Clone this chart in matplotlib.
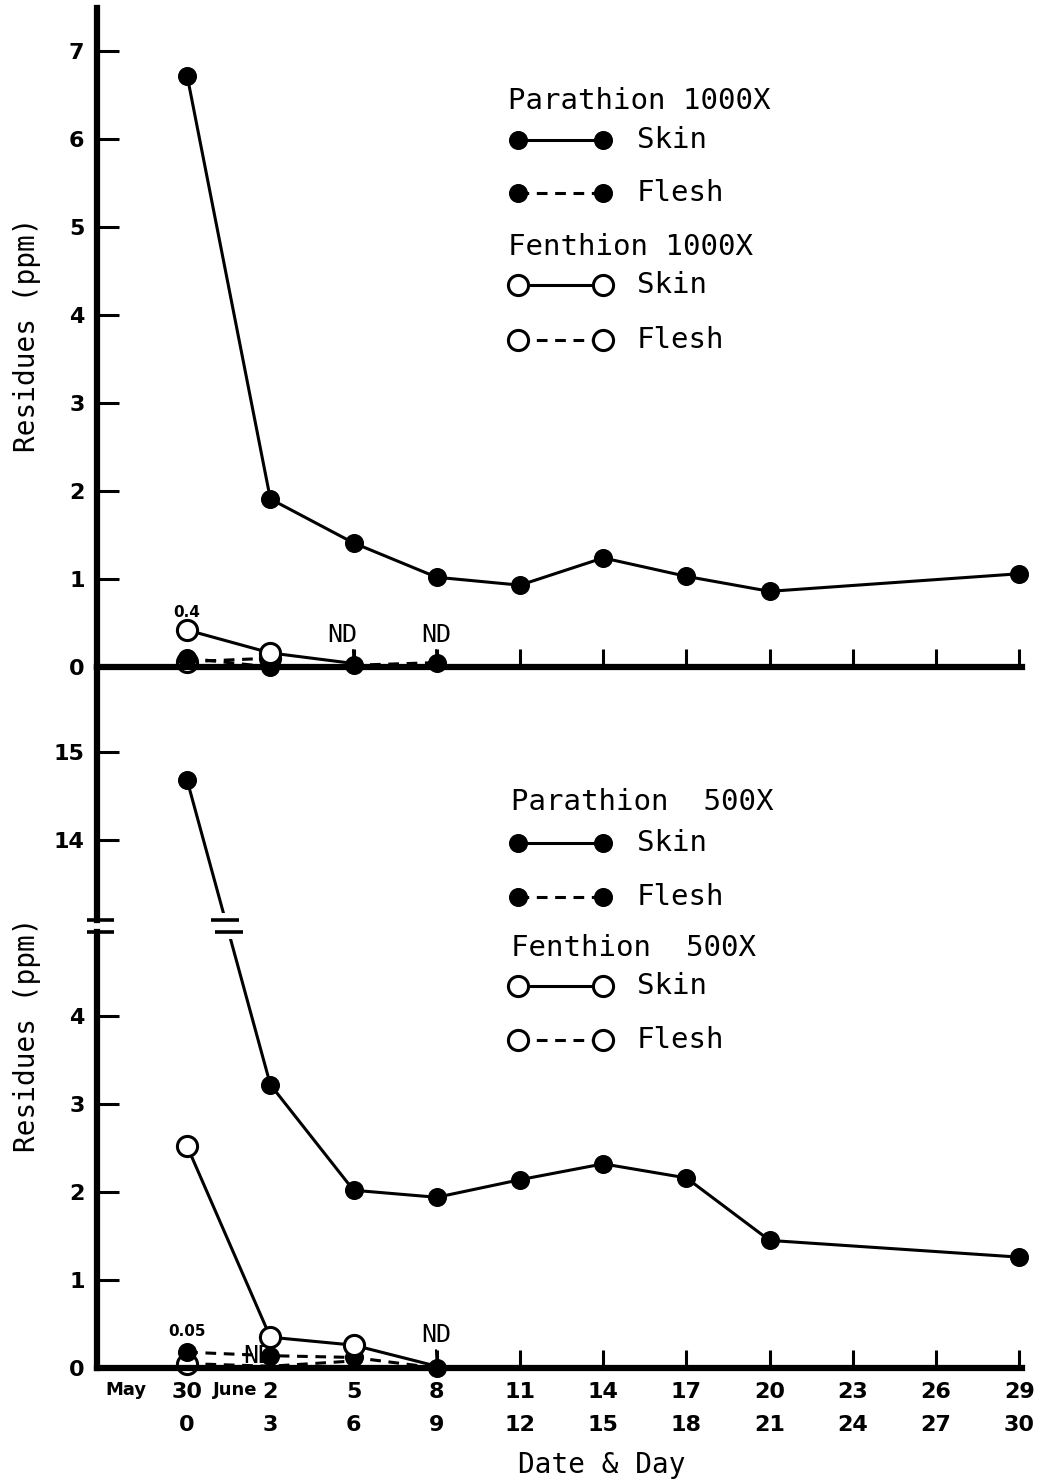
import matplotlib.pyplot as plt
from matplotlib.patches import ConnectionPatch, Rectangle
from matplotlib.lines import Line2D

W, H = 1046, 1482
MONO = 'DejaVu Sans Mono'

# sampling days (days after spraying)
days = [0, 3, 6, 9, 12, 15, 18, 21, 30]
flesh_days = [0, 3, 6, 9]
fen_days_1000 = [0, 3, 6]
fen_flesh_days_1000 = [0, 3]
fen_days_500 = [0, 3, 6, 9]
fen_flesh_days_500 = [0, 3, 6]

# Parathion / Fenthion 1000X (ppm)
par_skin_1000 = [6.72, 1.91, 1.41, 1.02, 0.93, 1.24, 1.03, 0.86, 1.06]
par_flesh_1000 = [0.10, 0.0, 0.02, 0.05]
fen_skin_1000 = [0.42, 0.16, 0.04]
fen_flesh_1000 = [0.06, 0.10]

# Parathion / Fenthion 500X (ppm)
par_skin_500 = [14.68, 3.22, 2.02, 1.94, 2.14, 2.32, 2.16, 1.45, 1.26]
par_flesh_500 = [0.18, 0.14, 0.12, 0.0]
fen_skin_500 = [2.52, 0.35, 0.26, 0.02]
fen_flesh_500 = [0.05, 0.02, 0.08]

tick_days = list(range(0, 31, 3))
date_labels = ['30', '2', '5', '8', '11', '14', '17', '20', '23', '26', '29']


def box(x0, y0, x1, y1):
    # pixel box (origin top-left) -> figure fraction rect
    return [x0 / W, 1 - y1 / H, (x1 - x0) / W, (y1 - y0) / H]


def style(filled, dashed):
    return dict(color='k', lw=2.2, ls=(0, (3.5, 2.5)) if dashed else '-',
                marker='o', ms=11.5 if filled else 14.5,
                mfc='k' if filled else 'white', mec='k', mew=2.2)


def series(ax, x, y, filled, dashed, z=3, every=None):
    ax.plot(x, y, clip_on=False, zorder=z, markevery=every, **style(filled, dashed))


fig = plt.figure(figsize=(W / 100, H / 100), dpi=100)

ax1 = fig.add_axes(box(97, 8, 1022, 667))
ax2 = fig.add_axes(box(97, 667, 1022, 920))
ax3 = fig.add_axes(box(97, 932, 1022, 1368))

ax1.set_ylim(0, 7.49)
ax2.set_ylim(13.09, 15.97)
ax3.set_ylim(0, 4.955)

for ax in (ax1, ax2, ax3):
    ax.set_xlim(-3.25, 30.1)
    ax.patch.set_visible(False)
    ax.spines['top'].set_visible(False)
    ax.spines['right'].set_visible(False)
    ax.spines['left'].set_linewidth(4.5)
    ax.spines['bottom'].set_linewidth(4.5)
    ax.tick_params(axis='both', direction='in', width=2.2, colors='k')
    ax.tick_params(axis='y', length=16, labelsize=16, pad=9)
    ax.tick_params(axis='x', length=13, labelsize=16, pad=10)

ax1.set_yticks(range(8))
ax2.set_yticks([14, 15])
ax3.set_yticks(range(5))
ax1.set_xticks(tick_days)
ax1.set_xticklabels([])
ax2.spines['bottom'].set_visible(False)
ax2.set_xticks([])
ax3.set_xticks(tick_days)
ax3.set_xticklabels([f'{d}\n{t}' for d, t in zip(date_labels, tick_days)],
                    linespacing=1.85)

for ax in (ax1, ax2, ax3):
    for lab in ax.get_yticklabels() + ax.get_xticklabels():
        lab.set_fontweight('bold')

# --- top panel: 1000X
series(ax1, fen_flesh_days_1000, fen_flesh_1000, False, True, 2)
series(ax1, flesh_days, par_flesh_1000, True, True, 3)
series(ax1, days, par_skin_1000, True, False, 3)
series(ax1, fen_days_1000, fen_skin_1000, False, False, 4, every=[0, 1])

ax1.text(0, 0.62, '0.4', ha='center', va='center', fontsize=11, fontweight='bold')
ax1.annotate('ND', xy=(6, 0.02), xytext=(5.6, 0.36), ha='center', va='center',
             family=MONO, fontsize=18,
             arrowprops=dict(arrowstyle='-', lw=1.6, shrinkA=0, shrinkB=0, relpos=(0.85, 0)))
ax1.annotate('ND', xy=(9, 0.05), xytext=(8.97, 0.36), ha='center', va='center',
             family=MONO, fontsize=18,
             arrowprops=dict(arrowstyle='-', lw=1.6, shrinkA=0, shrinkB=0, relpos=(0.5, 0)))

# --- bottom panel: 500X (broken axis)
series(ax3, fen_flesh_days_500, fen_flesh_500, False, True, 2, every=[0])
series(ax3, flesh_days, par_flesh_500, True, True, 3)
series(ax3, days[1:], par_skin_500[1:], True, False, 3)
series(ax3, fen_days_500, fen_skin_500, False, False, 4, every=[0, 1, 2])
series(ax2, days[:1], par_skin_500[:1], True, False, 3)

con = ConnectionPatch(xyA=(days[0], par_skin_500[0]), coordsA=ax2.transData,
                      xyB=(days[1], par_skin_500[1]), coordsB=ax3.transData,
                      color='k', lw=2.2, zorder=2)
fig.add_artist(con)

ax3.text(0, 0.42, '0.05', ha='center', va='center', fontsize=11, fontweight='bold')
ax3.text(2.55, 0.14, 'ND', ha='center', va='center', family=MONO, fontsize=18, zorder=2.5)
ax3.annotate('ND', xy=(9, 0.02), xytext=(8.97, 0.37), ha='center', va='center',
             family=MONO, fontsize=18,
             arrowprops=dict(arrowstyle='-', lw=1.6, shrinkA=0, shrinkB=0, relpos=(0.5, 0)))

# break marks on the y axis
for ax, yy in ((ax2, 0), (ax3, 1)):
    ax.plot([-0.011, 0.018], [yy, yy], transform=ax.transAxes, color='k',
            lw=2.6, clip_on=False, solid_capstyle='butt')

# break marks on the steep parathion line
fig.canvas.draw()
xa, ya = ax2.transData.transform((days[0], par_skin_500[0]))
xb, yb = ax3.transData.transform((days[1], par_skin_500[1]))
y_top, y_bot = ax2.bbox.y0, ax3.bbox.y1
to_fig = fig.transFigure.inverted()


def x_at(y):
    return xa + (y - ya) * (xb - xa) / (yb - ya)


x_mid = x_at((y_top + y_bot) / 2)
(rx0, ry0) = to_fig.transform((x_mid - 20, y_bot - 7))
(rx1, ry1) = to_fig.transform((x_mid + 20, y_top + 7))
fig.add_artist(Rectangle((rx0, ry0), rx1 - rx0, ry1 - ry0, transform=fig.transFigure,
                         facecolor='white', edgecolor='none', zorder=4))
for yy in (y_top, y_bot):
    xc = x_at(yy)
    p0 = to_fig.transform((xc - 14, yy))
    p1 = to_fig.transform((xc + 14, yy))
    fig.add_artist(Line2D([p0[0], p1[0]], [p0[1], p1[1]], transform=fig.transFigure,
                          color='k', lw=2.6, zorder=5, solid_capstyle='butt'))

# month names beside the first date labels
xt = ax3.get_xaxis_transform()
ax3.text(-2.2, -0.05, 'May', transform=xt, ha='center', va='center',
         fontsize=13, fontweight='bold')
ax3.text(1.75, -0.05, 'June', transform=xt, ha='center', va='center',
         fontsize=13, fontweight='bold')

# axis titles
fig.text(27 / W, 1 - 335 / H, 'Residues (ppm)', rotation=90, ha='center', va='center',
         family=MONO, fontsize=20)
fig.text(27 / W, 1 - 1035 / H, 'Residues (ppm)', rotation=90, ha='center', va='center',
         family=MONO, fontsize=20)
fig.text(602 / W, 1 - 1465 / H, 'Date & Day', ha='center', va='center',
         family=MONO, fontsize=20)


# hand-laid legends (headings sit at the swatch edge)
def legend_block(x_head, y_head, heading, rows):
    fig.text(x_head / W, 1 - y_head / H, heading, va='center', family=MONO, fontsize=21)
    for y, filled, dashed, label in rows:
        fig.add_artist(Line2D([518 / W, 603 / W], [1 - y / H, 1 - y / H],
                              transform=fig.transFigure, **style(filled, dashed)))
        fig.text(637 / W, 1 - y / H, label, va='center', family=MONO, fontsize=21)


legend_block(508, 101, 'Parathion 1000X', [(140, True, False, 'Skin'), (193, True, True, 'Flesh')])
legend_block(508, 247, 'Fenthion 1000X', [(285, False, False, 'Skin'), (340, False, True, 'Flesh')])
legend_block(511, 802, 'Parathion  500X', [(843, True, False, 'Skin'), (897, True, True, 'Flesh')])
legend_block(511, 948, 'Fenthion  500X', [(986, False, False, 'Skin'), (1040, False, True, 'Flesh')])

fig.savefig('out.png', dpi=100, facecolor='white')
